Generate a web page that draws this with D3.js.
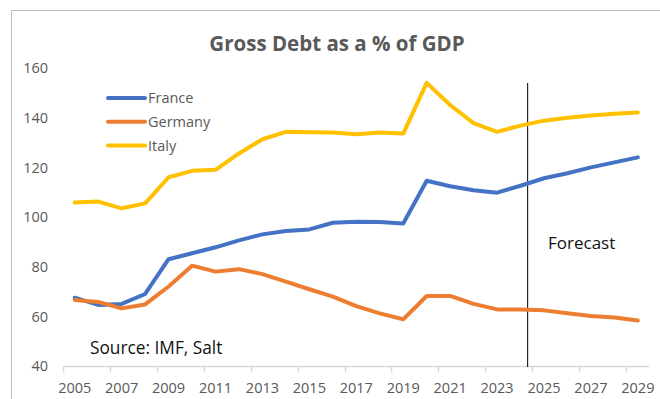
<!DOCTYPE html>
<html>
<head>
<meta charset="utf-8">
<script src="https://cdn.jsdelivr.net/npm/d3@7"></script>
<style>
  html, body { margin: 0; padding: 0; background: #fff; }
  svg { display: block; }
</style>
</head>
<body>
<svg id="chart" width="660" height="399"></svg>
<script>
// Gross government debt, % of GDP (IMF; 2025 onwards are forecasts)
const years = d3.range(2005, 2030);
const france  = [67.5, 64.6, 65.0, 69.0, 83.0, 85.4, 87.8, 90.6, 93.0, 94.4, 95.0, 97.7, 98.1, 98.0, 97.4, 114.6, 112.4, 110.8, 109.8, 112.6, 115.6, 117.6, 120.0, 122.0, 124.0];
const germany = [66.6, 65.8, 63.2, 64.8, 72.0, 80.4, 78.0, 79.0, 77.0, 74.0, 70.9, 67.9, 64.1, 61.2, 58.8, 68.2, 68.2, 65.0, 62.8, 62.8, 62.4, 61.2, 60.1, 59.5, 58.3];
const italy   = [105.8, 106.2, 103.5, 105.5, 116.0, 118.6, 119.0, 125.6, 131.3, 134.3, 134.1, 134.0, 133.3, 134.0, 133.6, 154.0, 145.1, 137.8, 134.3, 136.8, 138.8, 140.0, 140.9, 141.6, 142.1];
const yTicks = [40, 60, 80, 100, 120, 140, 160];
const xTickYears = years.filter((y, i) => i % 2 === 0);
const forecastFrom = 2024.3;

const series = [
  { name: "France",  values: france,  color: "#4472C4" },
  { name: "Germany", values: germany, color: "#ED7D31" },
  { name: "Italy",   values: italy,   color: "#FFC000" }
];

const svg = d3.select("#chart");
const font = "'Open Sans', 'Noto Sans', sans-serif";
const grey = "#595959";

const plot = { left: 63, right: 649.6, top: 68, bottom: 366 };

// each year owns one category slot; points sit at the slot centre
const x = d3.scaleLinear()
  .domain([years[0] - 0.5, years[years.length - 1] + 0.5])
  .range([plot.left, plot.right]);
const y = d3.scaleLinear().domain([40, 160]).range([plot.bottom, plot.top]);

// outer frame (top and left edges)
svg.append("line").attr("x1", 11.5).attr("x2", 660).attr("y1", 10.5).attr("y2", 10.5)
  .attr("stroke", "#bcbcc6").attr("stroke-width", 1);
svg.append("line").attr("x1", 11.5).attr("x2", 11.5).attr("y1", 10.5).attr("y2", 399)
  .attr("stroke", "#bcbcc6").attr("stroke-width", 1);

// title
svg.append("text")
  .attr("x", 337).attr("y", 50.5)
  .attr("text-anchor", "middle")
  .attr("font-family", font).attr("font-weight", "bold").attr("font-size", 20.5)
  .attr("fill", grey)
  .text("Gross Debt as a % of GDP");

// y axis labels (no axis line, no gridlines)
const yAxis = d3.axisLeft(y).tickValues(yTicks).tickSize(0).tickPadding(0);
const gy = svg.append("g").attr("transform", `translate(48,0)`).call(yAxis);
gy.select(".domain").remove();
gy.selectAll("text")
  .attr("font-family", font).attr("font-size", 14.5).attr("fill", grey)
  .attr("dy", "0.34em");

// x axis: ticks at slot boundaries every second year, labels centred on slots
const gx = svg.append("g").attr("transform", `translate(0,${plot.bottom + 0.5})`);
gx.append("line")
  .attr("x1", plot.left).attr("x2", plot.right)
  .attr("stroke", "#d9d9d9").attr("stroke-width", 1.5);
gx.selectAll("line.tick").data(xTickYears).join("line")
  .attr("class", "tick")
  .attr("x1", d => Math.round(x(d - 0.5)) + 0.5).attr("x2", d => Math.round(x(d - 0.5)) + 0.5)
  .attr("y1", 0).attr("y2", 6)
  .attr("stroke", "#d9d9d9").attr("stroke-width", 1.5);
gx.selectAll("text").data(xTickYears).join("text")
  .attr("x", d => x(d)).attr("y", 26)
  .attr("text-anchor", "middle")
  .attr("font-family", font).attr("font-size", 14.5).attr("fill", grey)
  .text(d => d);

// forecast divider
svg.append("line")
  .attr("x1", x(forecastFrom)).attr("x2", x(forecastFrom))
  .attr("y1", 83).attr("y2", plot.bottom + 1)
  .attr("stroke", "#262626").attr("stroke-width", 1.2);

// series lines
const line = d3.line()
  .x((d, i) => x(years[i]))
  .y(d => y(d));

svg.selectAll("path.series").data(series).join("path")
  .attr("class", "series")
  .attr("d", d => line(d.values))
  .attr("fill", "none")
  .attr("stroke", d => d.color)
  .attr("stroke-width", 4)
  .attr("stroke-linejoin", "round")
  .attr("stroke-linecap", "round");

// legend
const legend = svg.append("g").attr("transform", "translate(108,98)");
const item = legend.selectAll("g").data(series).join("g")
  .attr("transform", (d, i) => `translate(0,${i * 23.7})`);
item.append("line")
  .attr("x1", 0).attr("x2", 37)
  .attr("stroke", d => d.color).attr("stroke-width", 4)
  .attr("stroke-linecap", "round");
item.append("text")
  .attr("x", 40).attr("dy", "0.36em")
  .attr("font-family", font).attr("font-size", 14.5).attr("fill", grey)
  .text(d => d.name);

// annotations
svg.append("text")
  .attr("x", 90).attr("y", 354)
  .attr("font-family", font).attr("font-size", 17.3).attr("fill", "#111")
  .text("Source: IMF, Salt");
svg.append("text")
  .attr("x", 548).attr("y", 249)
  .attr("font-family", font).attr("font-size", 17).attr("fill", "#111")
  .text("Forecast");
</script>
</body>
</html>
